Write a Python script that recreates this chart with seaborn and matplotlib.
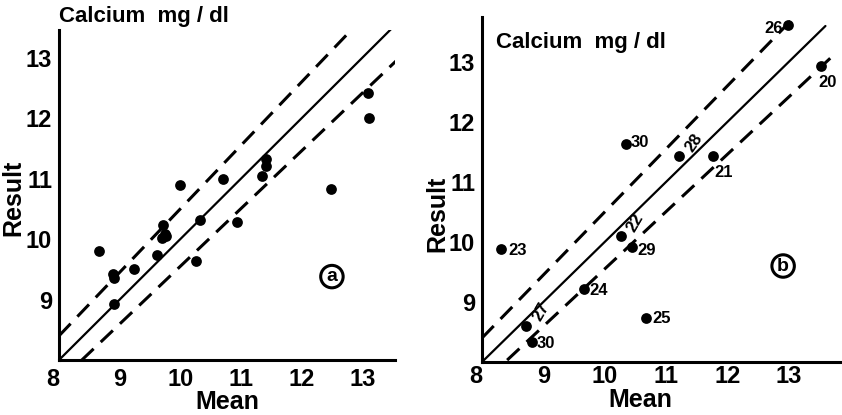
import numpy as np
import pandas as pd
import matplotlib
matplotlib.use("Agg")
import matplotlib.pyplot as plt
import seaborn as sns

sns.set_theme(style="white")
plt.rcParams["font.family"] = ["Liberation Sans", "DejaVu Sans"]
plt.rcParams["font.weight"] = "bold"
plt.rcParams["text.color"] = "black"
plt.rcParams["axes.labelcolor"] = "black"
plt.rcParams["axes.labelweight"] = "bold"

# Panel a: mean vs. result for each laboratory
mean_a = [8.66, 8.89, 8.90, 8.91, 9.24, 9.62, 9.72, 9.74, 9.70, 9.76, 9.99,
          10.32, 10.26, 10.70, 10.94, 11.34, 11.42, 11.42, 12.48, 13.10, 13.11]
result_a = [9.80, 9.42, 9.36, 8.92, 9.51, 9.73, 10.24, 10.08, 10.02, 10.05, 10.90,
            10.31, 9.63, 11.00, 10.29, 11.04, 11.33, 11.21, 10.83, 12.42, 12.01]

# Panel b: labelled laboratories
labels_b = ["23", "30", "28", "21", "26", "20", "22", "29", "24", "25", "27", "30"]
mean_b = [8.31, 10.34, 11.21, 11.76, 12.99, 13.53, 10.27, 10.45, 9.66, 10.68, 8.71, 8.82]
result_b = [9.88, 11.64, 11.43, 11.43, 13.62, 12.93, 10.10, 9.92, 9.21, 8.74, 8.60, 8.33]

# Line of identity and the +/-5 % limits
ratios = [1.0, 1.05, 0.955]

x_ticks = [8, 9, 10, 11, 12, 13]
y_ticks = [9, 10, 11, 12, 13]
title = "Calcium  mg / dl"

W, H = 842, 415
fig = plt.figure(figsize=(W / 100, H / 100), dpi=100)

def px_axes(x0, y0, x1, y1):
    return fig.add_axes([x0 / W, (H - y1) / H, (x1 - x0) / W, (y1 - y0) / H])

ax_a = px_axes(59, 30, 395, 360)
ax_b = px_axes(482, 17, 842, 362)

def style_axes(ax, xlim, ylim, x_minor, y_minor, xpad):
    ax.set_xlim(*xlim)
    ax.set_ylim(*ylim)
    for s in ("top", "right"):
        ax.spines[s].set_visible(False)
    for s in ("left", "bottom"):
        ax.spines[s].set_linewidth(2.2)
        ax.spines[s].set_color("black")
    ax.set_xticks(x_ticks)
    ax.set_yticks(y_ticks)
    ax.set_xticks(x_minor, minor=True)
    ax.set_yticks(y_minor, minor=True)
    ax.tick_params(axis="x", which="major", direction="in", length=14, width=2.2,
                   labelsize=17, pad=xpad, colors="black")
    ax.tick_params(axis="x", which="minor", direction="in", length=8, width=2.2, colors="black")
    ax.tick_params(axis="y", which="major", direction="in", length=9, width=2.2,
                   labelsize=17, pad=5, colors="black")
    ax.tick_params(axis="y", which="minor", direction="in", length=7, width=2.2, colors="black")
    ax.set_xticklabels([str(t) for t in x_ticks], fontweight="bold", fontsize=17)
    ax.set_yticklabels([str(t) for t in y_ticks], fontweight="bold", fontsize=17)
    ax.get_xticklabels()[0].set_horizontalalignment("right")
    ax.set_xlabel("Mean", fontsize=18, fontweight="bold")
    ax.set_ylabel("Result", fontsize=18, fontweight="bold")

def draw_lines(ax, x_ranges):
    for r, (x0, x1) in zip(ratios, x_ranges):
        xs = np.array([x0, x1])
        ls = "-" if r == 1.0 else (0, (5.5, 3.2))
        lw = 1.6 if r == 1.0 else 2.2
        sns.lineplot(x=xs, y=r * xs, ax=ax, color="black", lw=lw, linestyle=ls)

# Panel a
style_axes(ax_a, (8, 13.54), (8, 13.46),
           [9.5, 10.5, 11.5, 12.5, 13.5], [9.5, 10.5, 11.5, 12.5], 6)
ax_a.xaxis.set_label_coords(0.5, -0.092)
ax_a.yaxis.set_label_coords(-0.1, 0.49)
draw_lines(ax_a, [(8, 13.5), (8, 12.85), (8.37, 13.6)])
sns.scatterplot(x=mean_a, y=result_a, ax=ax_a, color="black", s=60,
                edgecolor="black", linewidth=0, zorder=5)
ax_a.text(0.0, 1.01, title, transform=ax_a.transAxes, fontsize=16,
          fontweight="bold", va="bottom", ha="left")
ax_a.text(12.5, 9.38, "a", fontsize=14, fontweight="bold", ha="center", va="center",
          bbox=dict(boxstyle="circle,pad=0.14", fc="none", ec="black", lw=2.2))

# Panel b
style_axes(ax_b, (8, 13.87), (8, 13.75),
           [9.5, 10.5, 11.5, 12.5, 13.5], [9.5, 10.5, 11.5, 12.5, 13.5], 2.5)
ax_b.xaxis.set_label_coords(0.44, -0.075)
ax_b.yaxis.set_label_coords(-0.09, 0.43)
draw_lines(ax_b, [(8, 13.6), (8, 13.1), (8.41, 13.72)])
sns.scatterplot(x=mean_b, y=result_b, ax=ax_b, color="black", s=60,
                edgecolor="black", linewidth=0, zorder=5)
ax_b.text(0.04, 0.925, title, transform=ax_b.transAxes, fontsize=16,
          fontweight="bold", va="center", ha="left")
ax_b.text(12.91, 9.6, "b", fontsize=14, fontweight="bold", ha="center", va="center",
          bbox=dict(boxstyle="circle,pad=0.14", fc="none", ec="black", lw=2.2))

# label placement: (dx, dy) in points, ha, va, rotation
label_style = {
    0: (5, -1, "left", "center", 0),
    1: (4, 1, "left", "center", 0),
    2: (3, 1, "left", "bottom", 55),
    3: (1, -6, "left", "top", 0),
    4: (-4, -3, "right", "center", 0),
    5: (-2, -6, "left", "top", 0),
    6: (2, 1, "left", "bottom", 60),
    7: (4, -3, "left", "center", 0),
    8: (4, -1, "left", "center", 0),
    9: (4, -1, "left", "center", 0),
    10: (3, 2, "left", "bottom", 60),
    11: (3, -1, "left", "center", 0),
}
for i, (lab, x, y) in enumerate(zip(labels_b, mean_b, result_b)):
    dx, dy, ha, va, rot = label_style[i]
    ax_b.annotate(lab, (x, y), xytext=(dx, dy), textcoords="offset points",
                  fontsize=12, fontweight="bold", ha=ha, va=va, rotation=rot)

fig.savefig("out.png", dpi=100)
